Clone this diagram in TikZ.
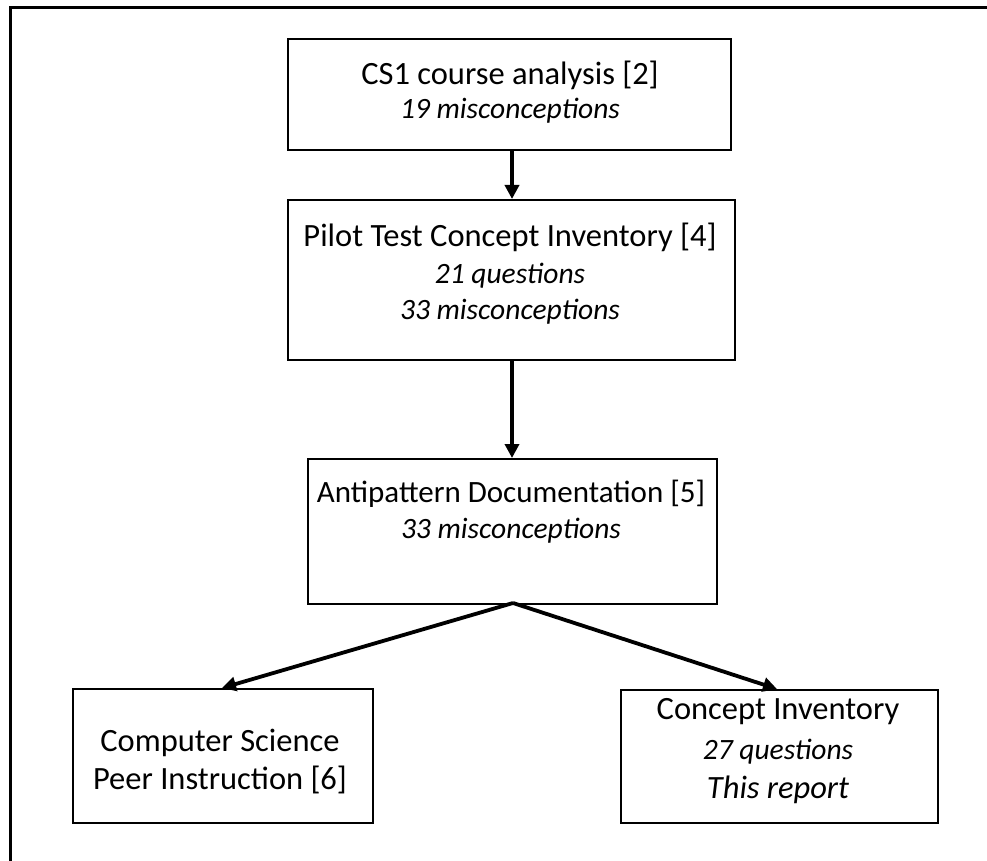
\documentclass[tikz,border=0pt]{standalone}
\usepackage{fontspec}
\setmainfont{Carlito}
\usetikzlibrary{arrows.meta}
\begin{document}
\begin{tikzpicture}[x=1pt,y=-1pt,
  box/.style={draw,line width=2pt,inner sep=0pt,anchor=north west},
  conn/.style={line width=3.8pt,-{Triangle[length=14pt,width=14pt]}},
  main/.style={font=\fontsize{32.5}{36}\selectfont,inner sep=0pt},
  sub/.style={font=\fontsize{29.5}{33}\selectfont\itshape,inner sep=0pt},
]
\useasboundingbox (0,0) rectangle (987,861);
\draw[line width=3pt] (10,861) -- (10,8) -- (987,8);
% boxes
\node[box,minimum width=443pt,minimum height=111pt] (b1) at (287,38) {};
\node[box,minimum width=447pt,minimum height=160pt] (b2) at (287,199) {};
\node[box,minimum width=409pt,minimum height=145pt] (b3) at (307,458) {};
\node[box,minimum width=300pt,minimum height=134pt] (b4) at (72,688) {};
\node[box,minimum width=317pt,minimum height=133pt] (b5) at (620,689) {};
% texts
\node[main] (t1a) at (510,75) {CS1 course analysis [2]};
\node[sub] (t1b) at (510,111) {19 misconceptions};
\node[main] (t2a) at (510,237) {Pilot Test Concept Inventory [4]};
\node[sub] (t2b) at (510,276) {21 questions};
\node[sub] (t2c) at (510,312) {33 misconceptions};
\node[main,font=\fontsize{31}{34}\selectfont] (t3a) at (511,494) {Antipattern Documentation [5]};
\node[sub] (t3b) at (511,531) {33 misconceptions};
\node[main] (t4a) at (220,743) {Computer Science};
\node[main] (t4b) at (220,780) {Peer Instruction [6]};
\node[main] (t5a) at (778,712) {Concept Inventory};
\node[sub] (t5b) at (778,752) {27 questions};
\node[font=\fontsize{32.5}{36}\selectfont\itshape,inner sep=0pt] (t5c) at (778,790) {This report};
% connectors
\coordinate (apex) at (513,603);
\draw[conn] (b1.south -| 512,0) -- (b2.north -| 512,0);
\draw[conn] (b2.south -| 512,0) -- (b3.north -| 512,0);
\draw[conn] (apex) -- (b4.north -| 222,0);
\draw[conn] (apex) -- (b5.north -| 777,0);
\end{tikzpicture}
\end{document}
